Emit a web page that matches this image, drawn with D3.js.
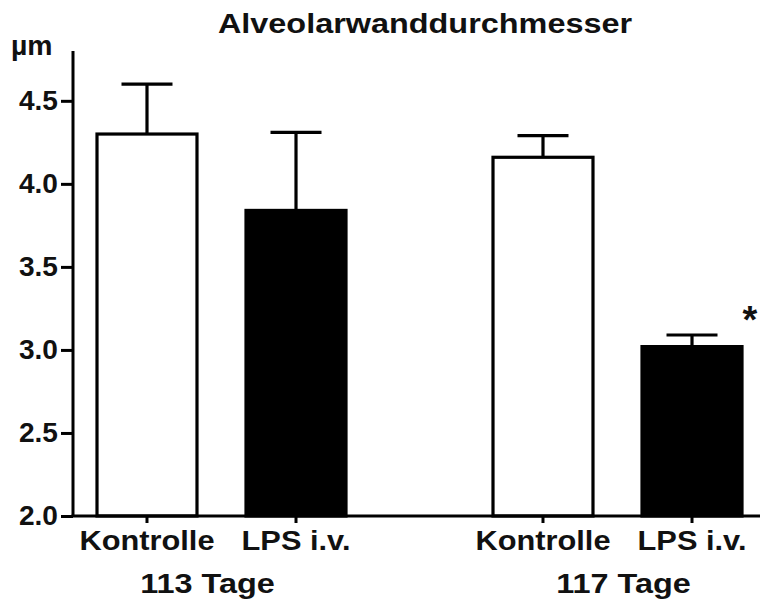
<!DOCTYPE html>
<html>
<head>
<meta charset="utf-8">
<script src="https://cdn.jsdelivr.net/npm/d3@7"></script>
<style>
  body { margin: 0; background: #fff; }
  text { font-family: Arial, "Liberation Sans", sans-serif; font-weight: bold; fill: #111; }
</style>
</head>
<body>
<svg id="chart"></svg>
<script>
// data
const groups = ["113 Tage", "117 Tage"];
const conditions = ["Kontrolle", "LPS i.v."];
const means = [[4.30, 3.84], [4.16, 3.02]];
const sems = [[0.30, 0.47], [0.13, 0.07]];
const significant = [[false, false], [false, true]];
const yTicks = [2.0, 2.5, 3.0, 3.5, 4.0, 4.5];

(function() {
    const width = 760, height = 601
    const margin = {left: 73, right: 0, top: 51, bottom: 85}

    const svg = d3.select("#chart")
        .attr("width", width)
        .attr("height", height)

    const rows = []
    groups.forEach((g, i) => conditions.forEach((c, j) => {
        rows.push({group: g, cond: c, mean: means[i][j], sem: sems[i][j], sig: significant[i][j]})
    }))

    // scales
    const y = d3.scaleLinear()
        .domain([2, 4.8])
        .range([height - margin.bottom, margin.top])

    const xGroup = d3.scalePoint()
        .domain(groups)
        .range([221.5, 617.5])

    const xCond = d3.scaleBand()
        .domain(conditions)
        .range([-124.5, 124.5])
        .paddingInner(0.329)

    const cx = (d) => xGroup(d.group) + xCond(d.cond) + xCond.bandwidth() / 2

    // widen text a little, like the source image
    function stretch(sel, k) {
        sel.each(function() {
            const w = this.getComputedTextLength()
            d3.select(this).attr("textLength", w * k).attr("lengthAdjust", "spacingAndGlyphs")
        })
    }

    // bars
    svg.append("g")
        .selectAll("rect")
        .data(rows)
        .enter()
        .append("rect")
        .attr("x", (d) => cx(d) - xCond.bandwidth() / 2)
        .attr("width", xCond.bandwidth())
        .attr("y", (d) => y(d.mean))
        .attr("height", (d) => y(2) - y(d.mean))
        .style("fill", (d) => d.cond === conditions[0] ? "#fff" : "#000")
        .attr("stroke", "#000")
        .attr("stroke-width", 3.2)

    // error bars (upper only)
    const err = svg.append("g")
        .selectAll("g")
        .data(rows)
        .enter()
        .append("g")
        .attr("stroke", "#000")
        .attr("stroke-width", 3.2)

    err.append("line")
        .attr("x1", cx).attr("x2", cx)
        .attr("y1", (d) => y(d.mean))
        .attr("y2", (d) => y(d.mean + d.sem))

    err.append("line")
        .attr("x1", (d) => cx(d) - 25.5)
        .attr("x2", (d) => cx(d) + 25.5)
        .attr("y1", (d) => y(d.mean + d.sem))
        .attr("y2", (d) => y(d.mean + d.sem))

    // significance star
    svg.append("g")
        .selectAll("text")
        .data(rows.filter((d) => d.sig))
        .enter()
        .append("text")
        .attr("x", (d) => cx(d) + 58)
        .attr("y", (d) => y(d.mean + d.sem) - 2)
        .attr("text-anchor", "middle")
        .style("font-size", "38px")
        .text("*")

    // y axis
    const yAxis = svg.append("g")
        .attr("transform", `translate(${margin.left},0)`)
        .call(d3.axisLeft(y).tickValues(yTicks).tickFormat(d3.format(".1f")).tickSize(12).tickPadding(3))
    yAxis.select(".domain").attr("stroke", "#000").attr("stroke-width", 3).attr("d", `M0,${y(4.8)}V${y(2)}`)
    yAxis.selectAll(".tick line").attr("stroke", "#000").attr("stroke-width", 3)
    yAxis.selectAll(".tick text")
        .style("font-size", "27px")
        .attr("dy", "0.33em")
        .call(stretch, 1.04)

    // x axis
    const xAxis = svg.append("g")
        .attr("transform", `translate(0,${y(2)})`)
    xAxis.append("line")
        .attr("x1", margin.left - 1.5).attr("x2", width)
        .attr("stroke", "#000").attr("stroke-width", 3)
    xAxis.selectAll(".tick")
        .data(rows)
        .enter()
        .append("line")
        .attr("x1", cx).attr("x2", cx)
        .attr("y1", 0).attr("y2", 7)
        .attr("stroke", "#000").attr("stroke-width", 3)
    xAxis.selectAll(".cat")
        .data(rows)
        .enter()
        .append("text")
        .attr("class", "cat")
        .attr("x", cx)
        .attr("y", 34)
        .attr("text-anchor", "middle")
        .style("font-size", "27px")
        .text((d) => d.cond)
        .call(stretch, 1.14)
    xAxis.selectAll(".grp")
        .data(groups)
        .enter()
        .append("text")
        .attr("class", "grp")
        .attr("x", (d, i) => xGroup(d) + (i === 0 ? -14 : 6))
        .attr("y", 77)
        .attr("text-anchor", "middle")
        .style("font-size", "27px")
        .text((d) => d)
        .call(stretch, 1.2)

    // unit label
    svg.append("text")
        .attr("x", 11)
        .attr("y", 55)
        .style("font-size", "27px")
        .text("µm")
        .call(stretch, 1.05)

    // title
    svg.append("text")
        .attr("x", 425)
        .attr("y", 33)
        .attr("text-anchor", "middle")
        .style("font-size", "27px")
        .text("Alveolarwanddurchmesser")
        .call(stretch, 1.2)
})();
</script>
</body>
</html>
